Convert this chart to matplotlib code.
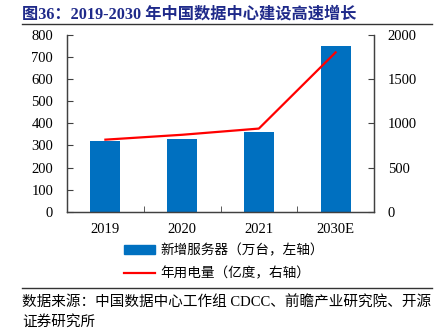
import matplotlib
matplotlib.use("Agg")
import matplotlib.pyplot as plt
from matplotlib.lines import Line2D
from matplotlib.patches import Patch

plt.rcParams['font.family'] = ['Liberation Serif', 'Noto Sans CJK SC']

years = ["2019", "2020", "2021", "2030E"]
servers = [320, 330, 360, 750]        # 新增服务器（万台）
power = [815, 870, 940, 1800]         # 年用电量（亿度）

BAR_COLOR = "#0070C0"
LINE_COLOR = "#FF0000"
AXIS_COLOR = "#404040"

fig = plt.figure(figsize=(4.41, 3.30), dpi=100)
ax = fig.add_axes([0.152, 0.358, 0.696, 0.537])
ax2 = ax.twinx()

x = list(range(len(years)))
ax.bar(x, servers, width=0.39, color=BAR_COLOR, zorder=2)
ax2.plot(x, power, color=LINE_COLOR, lw=1.6, zorder=3)

ax.set_xlim(-0.5, 3.5)
ax.set_ylim(0, 800)
ax.set_yticks(range(0, 801, 100))
ax2.set_ylim(0, 2000)
ax2.set_yticks(range(0, 2001, 500))

ax.set_xticks(x)
ax.set_xticklabels(years)
ax.set_xticks([0.5, 1.5, 2.5], minor=True)
ax.tick_params(axis="x", which="major", length=0, pad=8, labelsize=10.5)
ax.tick_params(axis="x", which="minor", direction="in", length=4, color=AXIS_COLOR)
ax.tick_params(axis="y", direction="in", length=4, color=AXIS_COLOR, labelsize=10.5, pad=10)
ax2.tick_params(axis="y", direction="in", length=4, color=AXIS_COLOR, labelsize=10.5, pad=10)

for a in (ax, ax2):
    a.spines["top"].set_visible(False)
    for s in ("left", "right", "bottom"):
        a.spines[s].set_color(AXIS_COLOR)
        a.spines[s].set_linewidth(0.9)

# 图题与分隔线
fig.text(0.05, 0.955, "图36：2019-2030 年中国数据中心建设高速增长",
         fontsize=11.7, fontweight="bold", color="#1F2A8A", va="center", ha="left")
fig.add_artist(Line2D([0.05, 0.98], [0.926, 0.926], color="#333333", lw=1.0))
fig.add_artist(Line2D([0.05, 0.98], [0.127, 0.127], color="#333333", lw=1.0))

handles = [Patch(color=BAR_COLOR), Line2D([0], [0], color=LINE_COLOR, lw=1.6)]
labels = ["新增服务器（万台，左轴）", "年用电量（亿度，右轴）"]
fig.legend(handles, labels, loc="upper left", bbox_to_anchor=(0.268, 0.278),
           frameon=False, fontsize=9.8, handlelength=2.3, handleheight=0.6,
           labelspacing=0.75, borderaxespad=0, handletextpad=0.4)

fig.text(0.05, 0.082, "数据来源：中国数据中心工作组 CDCC、前瞻产业研究院、开源",
         fontsize=10.5, va="center", ha="left")
fig.text(0.05, 0.024, "证券研究所", fontsize=10.5, va="center", ha="left")

fig.savefig("out.png", dpi=100)
